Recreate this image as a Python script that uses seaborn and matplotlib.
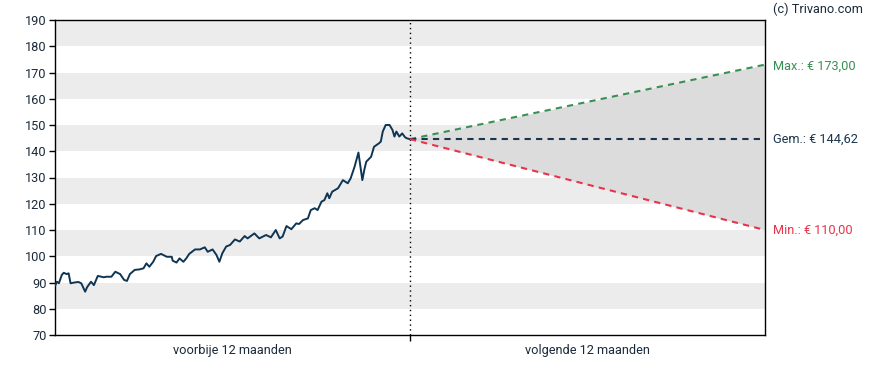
import numpy as np
import pandas as pd
import seaborn as sns
import matplotlib.pyplot as plt

# past 12 months: day number and closing price
days = [0, 2, 4, 7, 9, 12, 14, 16, 20, 24, 27, 31, 33, 37, 40, 44, 50, 53, 58, 62,
        67, 71, 74, 77, 82, 87, 91, 94, 97, 101, 104, 109, 115, 120, 121, 125, 128,
        132, 135, 138, 144, 149, 154, 157, 162, 166, 169, 172, 176, 180, 185, 190,
        195, 198, 205, 210, 217, 222, 227, 231, 234, 238, 243, 248, 251, 255, 260,
        263, 267, 270, 274, 277, 280, 282, 285, 291, 296, 301, 304, 308, 312, 316,
        318, 320, 325, 328, 333, 335, 337, 340, 344, 347, 349, 351, 354, 357, 360, 362, 365]
price = [88.7, 90.3, 89.7, 92.9, 93.7, 93.2, 93.5, 89.7, 90.0, 90.2, 89.7, 86.5, 88.2,
         90.3, 89.0, 92.5, 92.0, 92.2, 92.2, 94.1, 93.2, 91.0, 90.6, 93.2, 94.8, 95.0,
         95.4, 97.3, 96.0, 97.9, 100.1, 100.9, 99.8, 99.8, 98.3, 97.6, 99.2, 97.9, 99.2,
         100.9, 102.6, 102.6, 103.4, 101.7, 102.6, 100.5, 97.9, 101.1, 103.7, 104.3,
         106.4, 105.6, 107.7, 106.8, 108.7, 106.8, 108.1, 107.2, 110.0, 106.8, 107.5,
         111.5, 110.3, 112.5, 112.3, 113.8, 114.4, 117.6, 118.3, 117.6, 120.8, 121.4,
         124.0, 122.1, 124.6, 125.9, 129.0, 127.8, 129.7, 134.1, 139.5, 129.0, 132.9,
         136.0, 137.9, 141.7, 143.0, 143.7, 147.5, 150.0, 150.0, 148.1, 145.6, 147.5,
         145.6, 146.8, 145.3, 144.9, 144.62]

# next 12 months: analyst targets
forecast_days = [365, 730]
target_max = [144.62, 173.00]
target_avg = [144.62, 144.62]
target_min = [144.62, 110.00]

past_label = "voorbije 12 maanden"
next_label = "volgende 12 maanden"

sns.set_theme(style="white")
plt.rcParams['font.family'] = ['Roboto', 'DejaVu Sans']

fig = plt.figure(figsize=(8.88, 3.7), dpi=100)
ax = fig.add_axes([55 / 888, 35 / 370, 710 / 888, 315 / 370])

# alternating grey bands
for lo in range(80, 190, 20):
    ax.axhspan(lo, lo + 10, color='#ececec', lw=0, zorder=0)

ax.fill_between(forecast_days, target_min, target_max, color='#dcdcdc', lw=0, zorder=1)

ax.axvline(365, color='black', ls=(0, (1, 2.5)), lw=1, zorder=2)

df = pd.DataFrame({'day': days, 'price': price})
sns.lineplot(data=df, x='day', y='price', ax=ax, color='#0f3552', lw=1.4, zorder=3)

green, navy, red = '#3a8f55', '#1b3550', '#e8334a'
for vals, col in [(target_max, green), (target_avg, navy), (target_min, red)]:
    sns.lineplot(x=forecast_days, y=vals, ax=ax, color=col, lw=1.5,
                 linestyle=(0, (3, 2.5)), zorder=4)

fs = 9.2
ax.text(738, target_max[1] - 0.5, "Max.: € 173,00", color=green, fontsize=fs,
        va='center', ha='left')
ax.text(738, target_avg[1], "Gem.: € 144,62", color=navy, fontsize=fs,
        va='center', ha='left')
ax.text(738, target_min[1], "Min.: € 110,00", color=red, fontsize=fs,
        va='center', ha='left')

ax.set_xlim(0, 730)
ax.set_ylim(70, 190)
ax.set_yticks(range(70, 191, 10))
ax.tick_params(axis='y', length=4, width=1, color='black', labelsize=fs,
               labelcolor='#1b2a3a', pad=2, left=True)
ax.set_xticks([365])
ax.set_xticklabels([''])
ax.tick_params(axis='x', length=4, width=1, color='black', bottom=True)
ax.text(182.5, 64, past_label, ha='center', va='center', fontsize=fs, color='#1b2a3a')
ax.text(547.5, 64, next_label, ha='center', va='center', fontsize=fs, color='#1b2a3a')
ax.set_xlabel('')
ax.set_ylabel('')
for s in ax.spines.values():
    s.set_color('black')
    s.set_linewidth(1)

fig.text(773 / 888, 1 - 9 / 370, "(c) Trivano.com", fontsize=fs, color='#1b2a3a',
         ha='left', va='center')

fig.savefig('out.png', dpi=100)
